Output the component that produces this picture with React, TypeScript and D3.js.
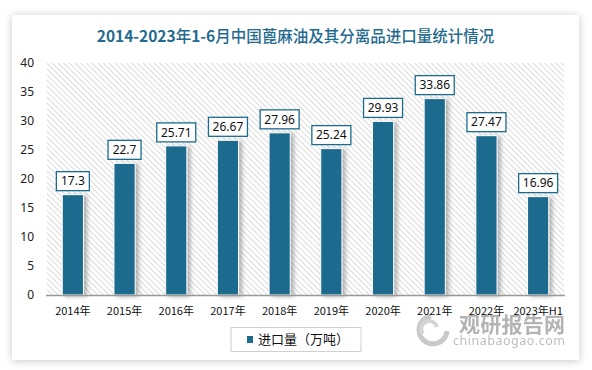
import React from "react";
import * as d3 from "d3";

const categories = ["2014年", "2015年", "2016年", "2017年", "2018年", "2019年", "2020年", "2021年", "2022年", "2023年H1"];
const importValues = [17.3, 22.7, 25.71, 26.67, 27.96, 25.24, 29.93, 33.86, 27.47, 16.96];
const yTicks = [0, 5, 10, 15, 20, 25, 30, 35, 40];
const titleParts = [
  { t: "2014-2023", b: true },
  { t: "年", b: false },
  { t: "1-6", b: true },
  { t: "月中国蓖麻油及其分离品进口量统计情况", b: false },
];
const legendText = "进口量（万吨）";

const W = 592;
const H = 370;
const plot = { left: 47, right: 564, top: 63, bottom: 295 };
const barColor = "#1C6B8E";
const numFont = "'Noto Sans', 'Liberation Sans', sans-serif";
const cjkFont = "'Noto Sans CJK SC', 'Noto Sans', sans-serif";

export default function App() {
  const x = d3.scaleBand<string>().domain(categories).range([plot.left, plot.right]).paddingInner(0.59).paddingOuter(0.295);
  const y = d3.scaleLinear().domain([0, 40]).range([plot.bottom, plot.top]);
  const bw = x.bandwidth();

  return (
    <svg width={W} height={H} style={{ position: "absolute", left: 0, top: 0, background: "#fff" }}>
      <defs>
        <filter id="cardShadow" x="-10%" y="-10%" width="120%" height="120%">
          <feDropShadow dx="0" dy="1" stdDeviation="4" floodColor="#000" floodOpacity="0.22" />
        </filter>
        <filter id="barShadow" x="-50%" y="-10%" width="200%" height="120%">
          <feDropShadow dx="3" dy="1" stdDeviation="2" floodColor="#555" floodOpacity="0.45" />
        </filter>
        <pattern id="hatch" width="4" height="4" patternUnits="userSpaceOnUse" patternTransform="rotate(-45)">
          <rect width="4" height="4" fill="#fff" />
          <line x1="0" y1="0" x2="0" y2="4" stroke="#d2d2d2" strokeWidth="1.6" />
        </pattern>
      </defs>

      <rect x={12} y={15} width={567} height={345} fill="#fff" filter="url(#cardShadow)" />

      <text x={295.5} y={42} textAnchor="middle" fontFamily={cjkFont} fontSize={15.5} fill="#1F6A8E">
        {titleParts.map((p, i) => (
          <tspan key={i} fontWeight={p.b ? 700 : 500}>{p.t}</tspan>
        ))}
      </text>

      <rect x={plot.left} y={plot.top} width={plot.right - plot.left} height={plot.bottom - plot.top} fill="url(#hatch)" />

      {yTicks.map((t) => (
        <text key={t} x={34} y={y(t)} dy="0.35em" textAnchor="end" fontFamily={numFont} fontSize={12} fill="#222">
          {t}
        </text>
      ))}

      {categories.map((c, i) => {
        const v = importValues[i];
        const bx = x(c)!;
        const top = y(v);
        const label = String(v);
        const boxW = label.length * 6 + 9;
        const boxH = 19;
        const cx = bx + bw / 2;
        return (
          <g key={c}>
            <rect x={bx} y={top} width={bw} height={plot.bottom - top} fill={barColor} stroke="#fff" strokeWidth={1} filter="url(#barShadow)" />
            <rect x={cx - boxW / 2} y={top - 4 - boxH} width={boxW} height={boxH} fill="#fff" stroke={barColor} strokeWidth={1.3} />
            <text x={cx} y={top - 4 - boxH / 2} dy="0.36em" textAnchor="middle" fontFamily={numFont} fontSize={12} fill="#111">
              {label}
            </text>
          </g>
        );
      })}

      <line x1={plot.left - 1} x2={plot.right + 1} y1={plot.bottom + 0.5} y2={plot.bottom + 0.5} stroke="#999" strokeWidth={1.5} />

      <rect x={231} y={327.5} width={130} height={24} fill="#fff" stroke="#d0d0d0" strokeWidth={1} />
      <rect x={247} y={336} width={6} height={7} fill={barColor} />
      <text x={258} y={339.5} dy="0.35em" fontFamily={cjkFont} fontSize={13} fill="#111">
        {legendText}
      </text>

      <g opacity={0.75}>
        <path d="M 431 316 A 14 14 0 1 0 447 331" fill="none" stroke="#b8b8b8" strokeWidth={5} />
        <path d="M 423 334 A 8 8 0 1 1 437 327" fill="none" stroke="#c8c8c8" strokeWidth={4} />
        <text x={459} y={332} fontFamily={cjkFont} fontSize={21} fontWeight="bold" fill="#9a9a9a" textLength={106}>
          观研报告网
        </text>
        <text x={453} y={345} fontFamily={numFont} fontSize={12.5} fill="#a8a8a8" textLength={112}>
          chinabaogao.com
        </text>
      </g>

      {categories.map((c) => (
        <text key={c} x={x(c)! + bw / 2} y={311} dy="0.35em" textAnchor="middle" fontFamily={cjkFont} fontSize={11} fill="#111">
          {c}
        </text>
      ))}
    </svg>
  );
}
